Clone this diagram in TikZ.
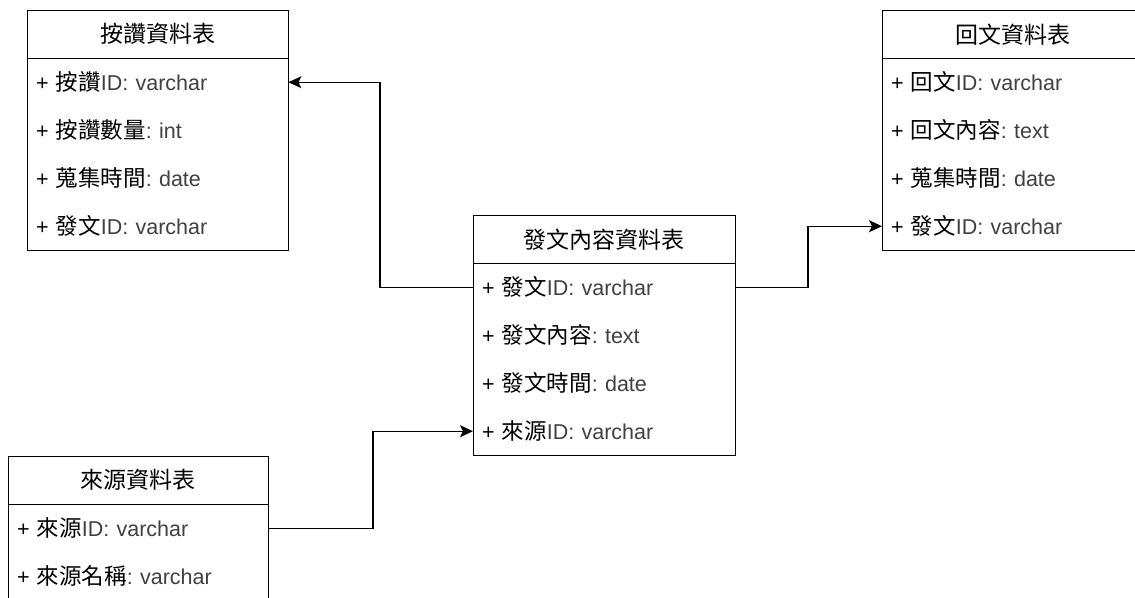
\documentclass[tikz,border=0pt]{standalone}
\usepackage{fontspec}
\setmainfont{Liberation Sans}
\newfontfamily\cjk{Noto Sans CJK TC}
\usetikzlibrary{arrows.meta}
\definecolor{lat}{HTML}{404040}
\newcommand{\zh}[1]{{\cjk\fontsize{22.5}{26}\selectfont\color{black}#1}}
\newcommand{\pl}{{\color{black}+} }
\frenchspacing
\begin{document}
\begin{tikzpicture}[x=1pt,y=-1pt,
  font=\fontsize{21.5}{26}\selectfont,
  boxframe/.style={draw, line width=1.4pt, anchor=north west, inner sep=0pt, minimum width=#1},
  hdr/.style={anchor=north west, inner sep=0pt, minimum width=#1, minimum height=48, font=\cjk\fontsize{23}{26}\selectfont},
  row/.style={anchor=north west, inner xsep=9pt, inner ysep=0pt, text width=#1, align=left, minimum height=48, text=lat},
  sepline/.style={line width=1.4pt},
  conn/.style={line width=1.3pt, -{Stealth[length=13pt,width=12pt,inset=3pt]}}]
\useasboundingbox (0,0) rectangle (1135,597);
\fill[white] (0,0) rectangle (1135,597);

% Table 1
\node[boxframe=261, minimum height=240] (b1) at (27,10) {};
\node[hdr=261] (b1h) at (27,10) {按讚資料表};
\node[row=243] (b1r1) at (27,58) {\pl\zh{按讚}ID: varchar};
\node[row=243] (b1r2) at (27,106) {\pl\zh{按讚數量}: int};
\node[row=243] (b1r3) at (27,154) {\pl\zh{蒐集時間}: date};
\node[row=243] (b1r4) at (27,202) {\pl\zh{發文}ID: varchar};
\draw[sepline] (b1h.south west) -- (b1h.south east);

% Table 2
\node[boxframe=262, minimum height=240] (b2) at (473,215) {};
\node[hdr=262] (b2h) at (473,215) {發文內容資料表};
\node[row=244] (b2r1) at (473,263) {\pl\zh{發文}ID: varchar};
\node[row=244] (b2r2) at (473,311) {\pl\zh{發文內容}: text};
\node[row=244] (b2r3) at (473,359) {\pl\zh{發文時間}: date};
\node[row=244] (b2r4) at (473,407) {\pl\zh{來源}ID: varchar};
\draw[sepline] (b2h.south west) -- (b2h.south east);

% Table 3
\node[boxframe=261, minimum height=240] (b3) at (882,10) {};
\node[hdr=261] (b3h) at (882,10) {回文資料表};
\node[row=243] (b3r1) at (882,58) {\pl\zh{回文}ID: varchar};
\node[row=243] (b3r2) at (882,106) {\pl\zh{回文內容}: text};
\node[row=243] (b3r3) at (882,154) {\pl\zh{蒐集時間}: date};
\node[row=243] (b3r4) at (882,202) {\pl\zh{發文}ID: varchar};
\draw[sepline] (b3h.south west) -- (b3h.south east);

% Table 4
\node[boxframe=260, minimum height=150] (b4) at (8,456) {};
\node[hdr=260] (b4h) at (8,456) {來源資料表};
\node[row=242] (b4r1) at (8,504) {\pl\zh{來源}ID: varchar};
\node[row=242] (b4r2) at (8,552) {\pl\zh{來源名稱}: varchar};
\draw[sepline] (b4h.south west) -- (b4h.south east);

% bend positions
\coordinate (k1) at (380,0);
\coordinate (k2) at (808,0);
\coordinate (k3) at (373,0);

% Connectors
\draw[conn] (b2r1.west) -- (b2r1.west -| k1) |- (b1r1.east);
\draw[conn] (b2r1.east) -- (b2r1.east -| k2) |- (b3r4.west);
\draw[conn] (b4r1.east) -- (b4r1.east -| k3) |- (b2r4.west);
\end{tikzpicture}
\end{document}
